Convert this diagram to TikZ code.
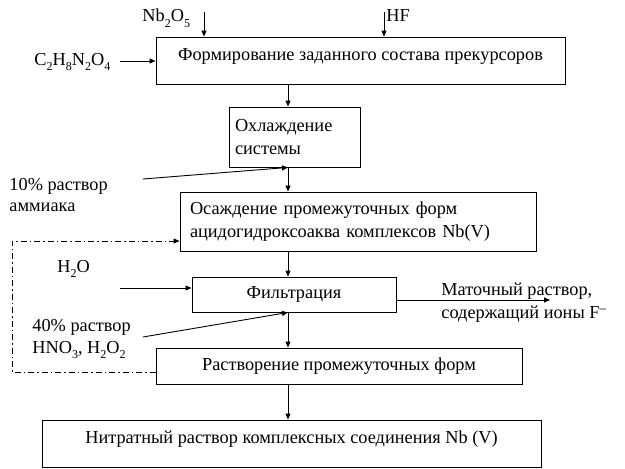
\documentclass[tikz,border=0pt]{standalone}
\usepackage{fontspec}
\setmainfont{Liberation Serif}
\usetikzlibrary{arrows.meta,positioning}
\newcommand{\lowsub}[1]{\raisebox{-.65ex}{\fontsize{12}{12}\selectfont#1}}

\begin{document}
\begin{tikzpicture}[x=1pt,y=-1pt,>={Triangle[length=6pt,width=5pt]},line width=.9pt,
	font=\fontsize{18.3}{23.5}\selectfont,
	box/.style={draw,inner sep=0pt},
	lbl/.style={inner sep=0pt,anchor=west,align=left},
	dashdot/.style={dash pattern=on 6pt off 3pt on 1.5pt off 3pt}]
	\useasboundingbox (0,0) rectangle (625,469);
	\node[box,minimum width=409pt,minimum height=47pt,text height=10pt,text depth=10pt] (form) at (360.5,60.5) {Формирование заданного состава прекурсоров};
	\node[box,minimum width=131pt,minimum height=60pt,text width=119pt,align=left] (cool) at (294.5,137) {Охлаждение\\системы};
	\node[box,minimum width=356pt,minimum height=59pt,text width=336pt,align=left] (osad) at (358,221.5) {Осаждение промежуточных форм\\ацидогидроксоаква комплексов Nb(V)};
	\node[box,minimum width=204pt,minimum height=35pt] (filt) at (294,294.5) {Фильтрация};
	\node[box,minimum width=366pt,minimum height=36pt] (dis) at (339,366) {Растворение промежуточных форм};
	\node[box,minimum width=499pt,minimum height=47pt,text height=10pt,text depth=10pt] (nitr) at (291.5,443.5) {Нитратный раствор комплексных соединения Nb (V)};
	\node[lbl] (nb) at (142,18) {Nb\lowsub{2}O\lowsub{5}};
	\node[lbl] (hf) at (386,16) {HF};
	\node[lbl] (oxal) at (34,62) {C\lowsub{2}H\lowsub{8}N\lowsub{2}O\lowsub{4}};
	\node[lbl,font=\fontsize{18.3}{20.5}\selectfont] (amm) at (9,195) {10\% раствор\\аммиака};
	\node[lbl] (water) at (57,269) {H\lowsub{2}O};
	\node[lbl,font=\fontsize{18.3}{22}\selectfont] (acid) at (32,339) {40\% раствор\\HNO\lowsub{3}, H\lowsub{2}O\lowsub{2}};
	\node[lbl,font=\fontsize{18.3}{23}\selectfont] (mother) at (441,303) {Маточный раствор,\\содержащий ионы F\textsuperscript{--}};
	\coordinate (col) at (288,0);
	\coordinate (nbin) at (204,12);
	\coordinate (hfin) at (384,12);
	\coordinate (oxin) at (120,61);
	\coordinate (ammin) at (143,179);
	\coordinate (waterin) at (120,288);
	\coordinate (acidin) at (143,337);
	\coordinate (mout) at (550,300);
	\coordinate (lb) at (12,372);
	\coordinate (lt) at (12,241);
	\draw[->] (nbin) -- (nbin |- form.north);
	\draw[->] (hfin) -- (hfin |- form.north);
	\draw[->] (oxin) -- (oxin -| form.west);
	\draw[->] (form.south -| col) -- (cool.north -| col);
	\draw[->] (cool.south -| col) -- (osad.north -| col);
	\draw[->] (ammin) -- (cool.south -| col);
	\draw[->] (osad.south -| col) -- (filt.north -| col);
	\draw[->] (waterin) -- (waterin -| filt.west);
	\draw[->] (filt.south -| col) -- (dis.north -| col);
	\draw[->] (acidin) -- (filt.south -| col);
	\draw[->] (mout -| filt.east) -- (mout);
	\draw[->] (dis.south -| col) -- (nitr.north -| col);
	\draw[dashdot,->] (lb -| dis.west) -- (lb) -- (lt) -- (lt -| osad.west);
\end{tikzpicture}
\end{document}
